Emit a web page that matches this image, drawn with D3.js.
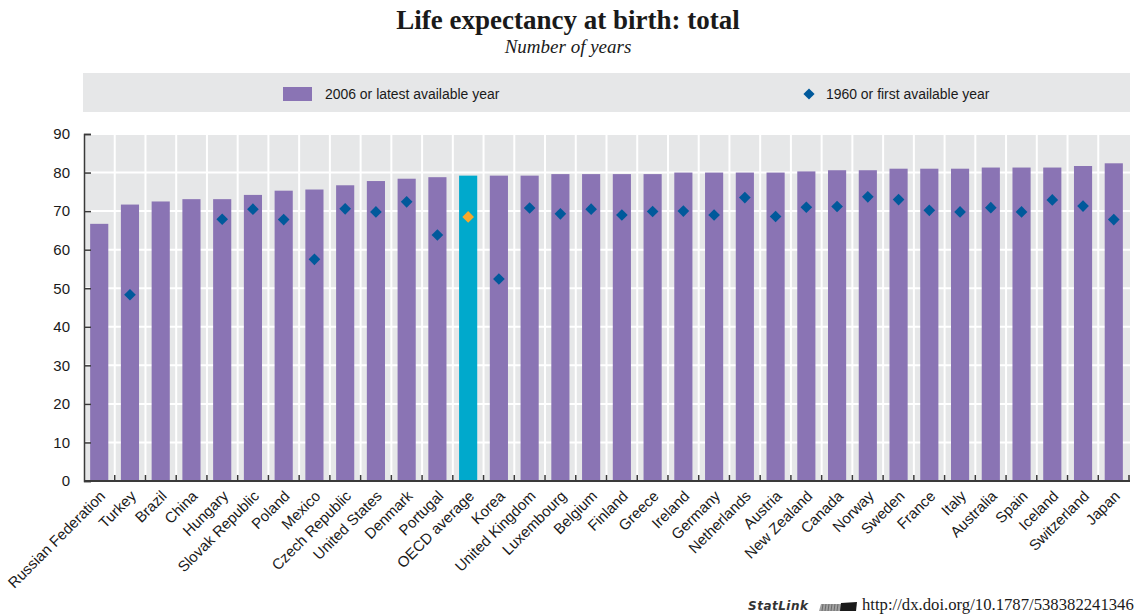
<!DOCTYPE html>
<html>
<head>
<meta charset="utf-8">
<script src="https://cdn.jsdelivr.net/npm/d3@7"></script>
<style>
  html, body { margin: 0; padding: 0; background: #ffffff; }
  svg { display: block; }
  .sans { font-family: "Liberation Sans", Arial, sans-serif; }
</style>
</head>
<body>
<svg id="chart" width="1134" height="615"></svg>
<script>
// Countries, ordered by life expectancy in 2006 (or latest year)
const countries = [
  "Russian Federation", "Turkey", "Brazil", "China", "Hungary", "Slovak Republic",
  "Poland", "Mexico", "Czech Republic", "United States", "Denmark", "Portugal",
  "OECD average", "Korea", "United Kingdom", "Luxembourg", "Belgium", "Finland",
  "Greece", "Ireland", "Germany", "Netherlands", "Austria", "New Zealand",
  "Canada", "Norway", "Sweden", "France", "Italy", "Australia", "Spain",
  "Iceland", "Switzerland", "Japan"
];

// Life expectancy, 2006 or latest available year
const latest = [
  66.7, 71.7, 72.5, 73.1, 73.1, 74.2,
  75.3, 75.6, 76.7, 77.8, 78.4, 78.8,
  79.2, 79.2, 79.2, 79.6, 79.6, 79.6,
  79.6, 80.0, 80.0, 80.0, 80.0, 80.3,
  80.6, 80.6, 81.0, 81.0, 81.0, 81.3, 81.3,
  81.3, 81.7, 82.4
];

// Life expectancy, 1960 or first available year (null = not available)
const first = [
  null, 48.3, null, null, 67.9, 70.5,
  67.8, 57.5, 70.6, 69.8, 72.4, 63.8,
  68.5, 52.4, 70.8, 69.3, 70.5, 69.0,
  69.9, 70.0, 69.0, 73.5, 68.6, 71.0,
  71.2, 73.7, 73.0, 70.2, 69.8, 70.9, 69.8,
  72.9, 71.3, 67.8
];

const yTicks = [0, 10, 20, 30, 40, 50, 60, 70, 80, 90];

const highlight = "OECD average";
const legendLabels = ["2006 or latest available year", "1960 or first available year"];

const colors = {
  bar: "#8a74b4",
  barHighlight: "#00a9cc",
  marker: "#00599b",
  markerHighlight: "#f8a82a",
  panel: "#e6e7e8",
  axis: "#3a3a3a",
  text: "#1a1a1a"
};

const svg = d3.select("#chart");
const margin = { left: 84, right: 1129, top: 134, bottom: 481 };

const x = d3.scaleBand()
  .domain(countries)
  .range([margin.left, margin.right])
  .paddingInner(0.41)
  .paddingOuter(0.2);

const y = d3.scaleLinear()
  .domain([0, 90])
  .range([margin.bottom, margin.top]);

// Title block
svg.append("text")
  .attr("x", 568).attr("y", 29)
  .attr("text-anchor", "middle")
  .style("font-family", "'Liberation Serif', 'DejaVu Serif', serif")
  .style("font-weight", "bold")
  .style("font-size", "27px")
  .style("fill", colors.text)
  .text("Life expectancy at birth: total");

svg.append("text")
  .attr("x", 568).attr("y", 53)
  .attr("text-anchor", "middle")
  .style("font-family", "'Liberation Serif', 'DejaVu Serif', serif")
  .style("font-style", "italic")
  .style("font-size", "19px")
  .style("fill", colors.text)
  .text("Number of years");

// Legend panel
const legend = svg.append("g");
legend.append("rect")
  .attr("x", 83).attr("y", 73)
  .attr("width", 1047).attr("height", 39)
  .attr("fill", colors.panel);

legend.append("rect")
  .attr("x", 283).attr("y", 87)
  .attr("width", 29).attr("height", 14)
  .attr("fill", colors.bar);

legend.append("text")
  .attr("class", "sans")
  .attr("transform", "translate(325,99) scale(0.93,1)")
  .style("font-size", "15px")
  .style("fill", colors.text)
  .text(legendLabels[0]);

legend.append("path")
  .attr("d", d3.symbol().type(d3.symbolSquare).size(62)())
  .attr("transform", "translate(809,94) rotate(45)")
  .attr("fill", colors.marker);

legend.append("text")
  .attr("class", "sans")
  .attr("transform", "translate(826,99) scale(0.93,1)")
  .style("font-size", "15px")
  .style("fill", colors.text)
  .text(legendLabels[1]);

// Plot panel
const plot = svg.append("g");
plot.append("rect")
  .attr("x", margin.left).attr("y", margin.top)
  .attr("width", margin.right - margin.left + 1)
  .attr("height", margin.bottom - margin.top)
  .attr("fill", colors.panel);

// Horizontal gridlines
plot.append("g")
  .selectAll("line")
  .data(yTicks.filter(d => d > 0))
  .join("line")
  .attr("x1", margin.left).attr("x2", margin.right + 1)
  .attr("y1", d => y(d)).attr("y2", d => y(d))
  .attr("stroke", "#ffffff")
  .attr("stroke-width", 2);

// Vertical gridlines at category boundaries
const span = x.range()[1] - x.range()[0];
const boundaries = d3.range(1, countries.length).map(i => margin.left + span * i / countries.length);
plot.append("g")
  .selectAll("line")
  .data(boundaries)
  .join("line")
  .attr("x1", d => d).attr("x2", d => d)
  .attr("y1", margin.top).attr("y2", margin.bottom)
  .attr("stroke", "#ffffff")
  .attr("stroke-width", 2);

// Bars
plot.append("g")
  .selectAll("rect")
  .data(countries)
  .join("rect")
  .attr("x", d => x(d))
  .attr("width", x.bandwidth())
  .attr("y", (d, i) => y(latest[i]))
  .attr("height", (d, i) => y(0) - y(latest[i]))
  .attr("fill", d => d === highlight ? colors.barHighlight : colors.bar);

// 1960 markers
const diamond = d3.symbol().type(d3.symbolSquare).size(68)();
plot.append("g")
  .selectAll("path")
  .data(countries.map((c, i) => ({ c, v: first[i] })).filter(d => d.v !== null))
  .join("path")
  .attr("d", diamond)
  .attr("transform", d => `translate(${x(d.c) + x.bandwidth() / 2},${y(d.v)}) rotate(45)`)
  .attr("fill", d => d.c === highlight ? colors.markerHighlight : colors.marker);

// Y axis
const yAxis = d3.axisLeft(y).tickValues(yTicks).tickSize(-7).tickPadding(14);
const gy = svg.append("g")
  .attr("transform", `translate(${margin.left},0)`)
  .call(yAxis);
gy.select(".domain").attr("stroke", colors.axis).attr("stroke-width", 1.5);
gy.selectAll(".tick line").attr("stroke", colors.axis).attr("stroke-width", 1.5);
gy.selectAll(".tick text")
  .style("font-family", "'Liberation Sans', Arial, sans-serif")
  .style("font-size", "15px")
  .style("fill", colors.text);

// X axis baseline with inward ticks at category boundaries
const gx = svg.append("g");
gx.append("line")
  .attr("x1", margin.left).attr("x2", margin.right + 1)
  .attr("y1", margin.bottom).attr("y2", margin.bottom)
  .attr("stroke", colors.axis).attr("stroke-width", 2);
gx.selectAll("line.tick")
  .data(boundaries.concat([margin.right]))
  .join("line")
  .attr("class", "tick")
  .attr("x1", d => d).attr("x2", d => d)
  .attr("y1", margin.bottom).attr("y2", margin.bottom - 6)
  .attr("stroke", colors.axis).attr("stroke-width", 1.5);

// Rotated category labels
gx.selectAll("text")
  .data(countries)
  .join("text")
  .attr("class", "sans")
  .attr("text-anchor", "end")
  .attr("transform", d => `translate(${x(d) + x.bandwidth() / 2 + 7},${margin.bottom + 16}) rotate(-45)`)
  .style("font-size", "15px")
  .style("fill", colors.text)
  .text(d => d);

// StatLink footer
const foot = svg.append("g");
foot.append("text")
  .attr("x", 748).attr("y", 610)
  .style("font-family", "'DejaVu Sans', sans-serif")
  .style("font-style", "italic")
  .style("font-weight", "bold")
  .style("font-size", "12px")
  .style("letter-spacing", "0.5px")
  .style("fill", "#333333")
  .text("StatLink");
const icon = foot.append("g").attr("transform", "translate(819,601)");
icon.append("path")
  .attr("d", "M2,3 L24,3 L23,10 L0,10 Z")
  .attr("fill", "#a0a0a0");
icon.selectAll("line")
  .data(d3.range(6))
  .join("line")
  .attr("x1", i => 4 + i * 3).attr("x2", i => 3 + i * 3)
  .attr("y1", 3).attr("y2", 10)
  .attr("stroke", "#6a6a6a").attr("stroke-width", 1);
icon.append("path")
  .attr("d", "M22,2 L38,1 L37,10 L21,10 Z")
  .attr("fill", "#1a1a1a");
foot.append("text")
  .attr("x", 862).attr("y", 610)
  .style("font-family", "'Liberation Serif', serif")
  .style("font-size", "16.7px")
  .style("fill", colors.text)
  .text("http://dx.doi.org/10.1787/538382241346");
</script>
</body>
</html>
